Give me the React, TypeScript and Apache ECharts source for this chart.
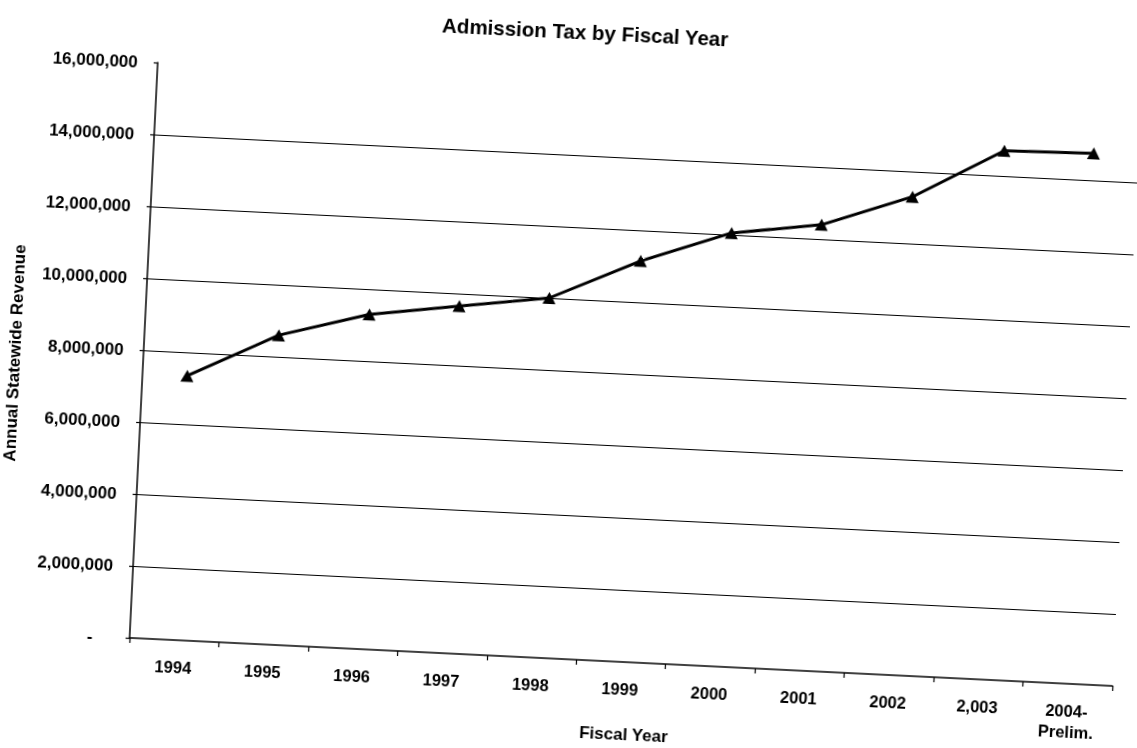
import React, { useEffect, useRef } from "react";
import * as echarts from "echarts";

const categories = ["1994", "1995", "1996", "1997", "1998", "1999", "2000", "2001", "2002", "2,003", "2004-\nPrelim."];
const revenue = [7350000, 8600000, 9300000, 9650000, 10000000, 11150000, 12050000, 12400000, 13300000, 14700000, 14750000];
const gridValues = [2000000, 4000000, 6000000, 8000000, 10000000, 12000000, 14000000];
const yMax = 16000000;
const yInterval = 2000000;

const FONT = "'Liberation Sans', Arial, sans-serif";

function fmt(v: number): string {
  if (v === 0) return "{z|-}";
  return v.toLocaleString("en-US");
}

export default function App() {
  const ref = useRef<HTMLDivElement>(null);
  useEffect(() => {
    if (!ref.current) return;
    const chart = echarts.init(ref.current, undefined, { renderer: "svg" });
    chart.setOption({
      animation: false,
      backgroundColor: "#ffffff",
      title: {
        text: "Admission Tax by Fiscal Year",
        left: "center",
        top: 16,
        textStyle: { fontFamily: FONT, fontWeight: "bold", fontSize: 20.5, color: "#000" },
      },
      grid: { left: 143, right: 10, top: 83, bottom: 89, outerBoundsMode: "none" },
      xAxis: {
        type: "category",
        data: categories,
        boundaryGap: true,
        name: "Fiscal Year",
        nameLocation: "middle",
        nameGap: 64,
        nameTextStyle: { fontFamily: FONT, fontWeight: "bold", fontSize: 17, color: "#000", padding: [0, 0, 0, 12] },
        axisLine: { lineStyle: { color: "#000", width: 1.5 } },
        axisTick: { show: true, length: 5, lineStyle: { color: "#000", width: 1.2 } },
        axisLabel: {
          fontFamily: FONT,
          fontWeight: "bold",
          fontSize: 16.5,
          color: "#000",
          margin: 16,
          lineHeight: 21,
          interval: 0,
        },
        splitLine: { show: false },
      },
      yAxis: {
        type: "value",
        min: 0,
        max: yMax,
        interval: yInterval,
        name: "Annual Statewide Revenue",
        nameLocation: "middle",
        nameGap: 120,
        nameRotate: 90,
        nameTextStyle: { fontFamily: FONT, fontWeight: "bold", fontSize: 17, color: "#000", padding: [0, 18, 0, 0] },
        axisLine: { show: true, lineStyle: { color: "#000", width: 1.5 } },
        axisTick: { show: true, length: 4, lineStyle: { color: "#000", width: 1.2 } },
        axisLabel: {
          formatter: fmt,
          fontFamily: FONT,
          fontWeight: "bold",
          fontSize: 17,
          color: "#000",
          margin: 20,
          rich: { z: { fontFamily: FONT, fontWeight: "bold", fontSize: 17, color: "#000", padding: [0, 17, 0, 0] } },
        },
        splitLine: { show: false },
      },
      series: [
        {
          type: "line",
          data: revenue,
          symbol: "triangle",
          symbolSize: [13, 12],
          lineStyle: { color: "#000", width: 3 },
          itemStyle: { color: "#000" },
          z: 5,
          markLine: {
            silent: true,
            symbol: "none",
            label: { show: false },
            lineStyle: { color: "#000", width: 1.2, type: "solid" },
            data: gridValues.map((v) => ({ yAxis: v })),
            z: 1,
          },
        },
      ],
    });
    return () => chart.dispose();
  }, []);
  return (
    <div
      ref={ref}
      style={{
        position: "fixed",
        left: 0,
        top: 0,
        width: 1137,
        height: 748,
        transform: "rotate(2.8deg)",
        transformOrigin: "568.5px 374px",
        background: "#fff",
      }}
    />
  );
}
